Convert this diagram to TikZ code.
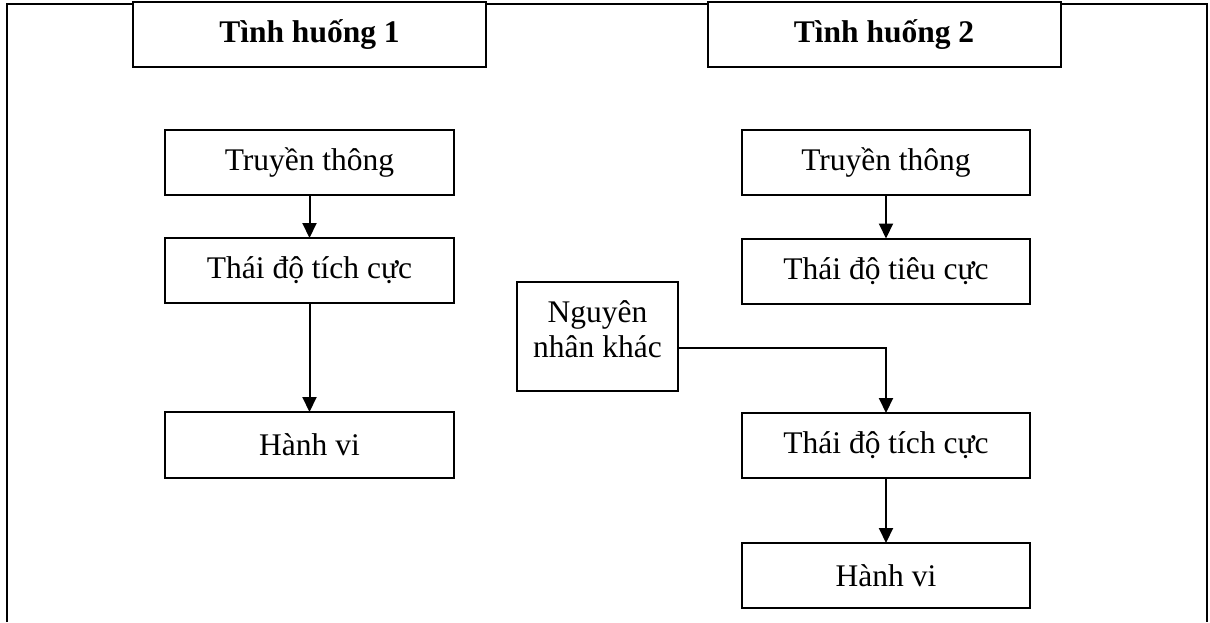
\documentclass[tikz,border=0pt]{standalone}
\usepackage{fontspec}
\setmainfont{Liberation Serif}
\usetikzlibrary{arrows.meta}
\tikzset{box/.style={draw=black, line width=2pt, fill=white, inner sep=0pt, outer sep=0pt,
  minimum width=#1, minimum height=65pt, font=\fontsize{31.5}{35}\selectfont},
%default width is that of the column boxes
box/.default={289pt},
titlebox/.style={box=353pt, font=\fontsize{31.5}{35}\selectfont\bfseries},
flow/.style={line width=2pt, -{Triangle[length=15pt,width=14pt]}}}

\begin{document}
\begin{tikzpicture}[x=1pt,y=-1pt]
\useasboundingbox (0,0) rectangle (1210,622);

\draw[line width=2.5pt] (7,622) -- (7,4) -- (1207,4) -- (1207,622);

\node[titlebox] (title1) at (309.5,34.5) {Tình huống 1};
\node[titlebox] (title2) at (884,34.5) {Tình huống 2};

\node[box] (msg1) at (309.5,162.5) {Truyền thông};
\node[box] (att1) at (309.5,270.5) {Thái độ tích cực};
\node[box,minimum height=66pt] (act1) at (309.5,445) {Hành vi};

\node[box=288pt] (msg2) at (886,162.5) {Truyền thông};
\node[box=288pt] (neg2) at (886,271) {Thái độ tiêu cực};
\node[box=161pt,minimum height=109pt] (other) at (597.5,336.5) {};
\node[font=\fontsize{31.5}{35}\selectfont, align=center, inner sep=0pt] (otherlbl) at ([yshift=7pt]other.center) {Nguyên\\nhân khác};
\node[box=288pt] (att2) at (886,445.5) {Thái độ tích cực};
\node[box=288pt] (act2) at (886,575.5) {Hành vi};

\draw[flow] (msg1) -- (att1);
\draw[flow] (att1) -- (act1);
\draw[flow] (msg2) -- (neg2);
\draw[flow] ([yshift=-11.5pt]other.east) -| (att2.north);
\draw[flow] (att2) -- (act2);
\end{tikzpicture}
\end{document}
